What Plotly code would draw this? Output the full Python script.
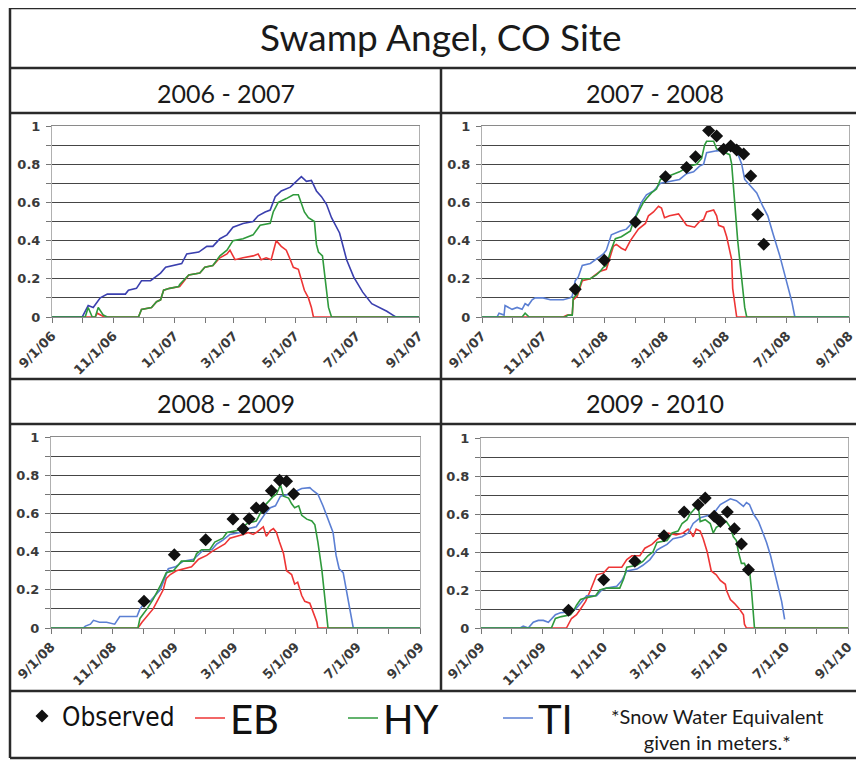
import pandas as pd
import plotly.graph_objects as go

# page window is 864x761; the html body adds an 8px margin, so the figure is 8px smaller
OFF = 8
FW, FH = 864 - OFF, 761 - OFF

# ---------------- data (days after 1 September, SWE in metres) ----------------
SEASON_STARTS = ["2006-09-01", "2007-09-01", "2008-09-01", "2009-09-01"]
SEASON_TITLES = ["2006 - 2007", "2007 - 2008", "2008 - 2009", "2009 - 2010"]
Y_TICKS = [0, 0.2, 0.4, 0.6, 0.8, 1]

# 2006-2007
eb1_days = [0, 43, 45, 48, 52, 86, 89, 99, 104, 108, 111, 117, 127, 136, 147, 152, 160, 167, 174, 177, 182, 190,
            200, 205, 208, 213, 218, 221, 223, 228, 233, 237, 240, 245, 248, 251, 255, 258, 260, 365]
eb1_swe = [0, 0, 0.02, 0.01, 0, 0, 0.04, 0.05, 0.08, 0.09, 0.14, 0.15, 0.16, 0.22, 0.23, 0.26, 0.27, 0.31, 0.33,
           0.35, 0.30, 0.31, 0.32, 0.33, 0.30, 0.31, 0.30, 0.36, 0.40, 0.37, 0.35, 0.30, 0.26, 0.25, 0.20, 0.14,
           0.10, 0.05, 0, 0]
hy1_days = [0, 33, 36, 40, 43, 46, 51, 55, 86, 89, 99, 104, 108, 111, 117, 126, 127, 136, 147, 152, 160, 167, 174,
            180, 190, 200, 207, 217, 220, 225, 233, 240, 245, 248, 251, 255, 258, 261, 263, 265, 269, 272, 275, 278,
            365]
hy1_swe = [0, 0, 0.05, 0, 0, 0.05, 0.01, 0, 0, 0.04, 0.05, 0.08, 0.09, 0.14, 0.15, 0.16, 0.17, 0.22, 0.23, 0.26,
           0.27, 0.32, 0.35, 0.40, 0.41, 0.43, 0.48, 0.49, 0.55, 0.60, 0.62, 0.64, 0.64, 0.60, 0.55, 0.52, 0.51,
           0.50, 0.38, 0.34, 0.32, 0.17, 0.05, 0, 0]
ti1_days = [0, 30, 36, 41, 48, 55, 73, 76, 84, 89, 98, 103, 108, 113, 121, 129, 134, 146, 154, 160, 167, 174, 180,
            190, 200, 205, 212, 217, 222, 228, 237, 245, 248, 253, 258, 263, 268, 273, 278, 286, 293, 300, 309, 318,
            326, 333, 339, 342, 365]
ti1_swe = [0, 0, 0.06, 0.05, 0.10, 0.12, 0.12, 0.14, 0.15, 0.19, 0.19, 0.21, 0.23, 0.26, 0.27, 0.28, 0.33, 0.34,
           0.37, 0.37, 0.41, 0.43, 0.47, 0.49, 0.50, 0.53, 0.55, 0.56, 0.63, 0.66, 0.68, 0.72, 0.735, 0.71, 0.715,
           0.66, 0.63, 0.59, 0.52, 0.44, 0.30, 0.21, 0.13, 0.07, 0.05, 0.03, 0.01, 0, 0]

# 2007-2008
eb2_days = [0, 81, 85, 90, 91, 95, 100, 108, 113, 118, 124, 128, 131, 134, 139, 143, 148, 156, 163, 166, 171, 176,
            179, 182, 187, 196, 201, 204, 212, 217, 221, 224, 231, 234, 236, 241, 244, 247, 249, 250, 254, 366]
eb2_swe = [0, 0, 0.01, 0.01, 0.09, 0.11, 0.19, 0.20, 0.22, 0.24, 0.25, 0.32, 0.37, 0.38, 0.36, 0.35, 0.40, 0.46,
           0.49, 0.53, 0.55, 0.58, 0.57, 0.52, 0.53, 0.54, 0.50, 0.48, 0.47, 0.50, 0.51, 0.55, 0.56, 0.53, 0.48,
           0.47, 0.42, 0.35, 0.30, 0.15, 0, 0]
hy2_days = [0, 40, 43, 47, 83, 86, 90, 91, 95, 100, 108, 114, 118, 121, 124, 128, 133, 139, 148, 151, 156, 161,
            164, 169, 174, 178, 187, 197, 207, 214, 219, 222, 224, 231, 234, 242, 247, 249, 252, 255, 259, 262, 264,
            366]
hy2_swe = [0, 0, 0.02, 0, 0, 0.01, 0.01, 0.10, 0.12, 0.20, 0.20, 0.22, 0.24, 0.26, 0.27, 0.34, 0.41, 0.42, 0.45,
           0.50, 0.55, 0.60, 0.62, 0.65, 0.67, 0.72, 0.74, 0.76, 0.79, 0.80, 0.83, 0.90, 0.92, 0.92, 0.88, 0.86,
           0.85, 0.80, 0.60, 0.40, 0.20, 0.05, 0, 0]
ti2_days = [0, 15, 17, 22, 23, 30, 35, 40, 43, 46, 50, 53, 61, 68, 81, 88, 90, 93, 96, 100, 108, 116, 121, 124,
            129, 138, 144, 151, 156, 159, 164, 171, 178, 187, 197, 204, 211, 217, 221, 224, 234, 244, 250, 254, 259,
            262, 267, 274, 280, 285, 290, 297, 304, 309, 312, 366]
ti2_swe = [0, 0, 0.02, 0.01, 0.06, 0.04, 0.05, 0.04, 0.07, 0.06, 0.09, 0.10, 0.10, 0.09, 0.09, 0.10, 0.11, 0.19,
           0.21, 0.27, 0.28, 0.31, 0.33, 0.35, 0.43, 0.45, 0.46, 0.50, 0.56, 0.60, 0.64, 0.66, 0.70, 0.71, 0.72,
           0.75, 0.76, 0.79, 0.80, 0.86, 0.87, 0.875, 0.88, 0.87, 0.80, 0.72, 0.69, 0.65, 0.58, 0.53, 0.44, 0.32,
           0.18, 0.08, 0, 0]
obs2_days = [93, 122, 153, 183, 204, 213, 226, 234, 241, 248, 254, 261, 268, 275, 281]
obs2_swe = [0.145, 0.297, 0.498, 0.734, 0.783, 0.839, 0.976, 0.948, 0.878, 0.895, 0.874, 0.853, 0.738, 0.537, 0.381]

# 2008-2009
eb3_days = [0, 86, 90, 96, 101, 106, 111, 114, 118, 124, 131, 139, 146, 154, 159, 165, 172, 177, 184, 190, 195,
            200, 203, 207, 210, 213, 217, 220, 223, 226, 230, 233, 238, 241, 244, 248, 251, 256, 259, 263, 264, 365]
eb3_swe = [0, 0, 0.03, 0.07, 0.10, 0.15, 0.20, 0.26, 0.28, 0.30, 0.31, 0.32, 0.36, 0.38, 0.40, 0.42, 0.44, 0.47,
           0.48, 0.49, 0.50, 0.49, 0.50, 0.52, 0.53, 0.48, 0.51, 0.52, 0.50, 0.45, 0.39, 0.30, 0.28, 0.23, 0.24,
           0.17, 0.14, 0.13, 0.09, 0.03, 0, 0]
hy3_days = [0, 86, 88, 95, 101, 108, 114, 121, 126, 129, 141, 144, 149, 157, 162, 170, 174, 184, 187, 190, 195,
            203, 207, 210, 213, 220, 223, 227, 230, 235, 238, 241, 245, 248, 253, 258, 261, 264, 268, 271, 274, 365]
hy3_swe = [0, 0, 0.05, 0.10, 0.15, 0.22, 0.29, 0.30, 0.33, 0.35, 0.35, 0.39, 0.41, 0.41, 0.45, 0.47, 0.50, 0.51,
           0.52, 0.53, 0.55, 0.56, 0.60, 0.63, 0.65, 0.69, 0.70, 0.75, 0.69, 0.68, 0.65, 0.63, 0.64, 0.59, 0.57,
           0.56, 0.54, 0.45, 0.30, 0.15, 0, 0]
ti3_days = [0, 32, 34, 39, 42, 48, 55, 63, 68, 85, 88, 91, 98, 103, 108, 111, 114, 116, 123, 131, 141, 147, 151,
            159, 164, 170, 177, 187, 194, 203, 207, 212, 217, 222, 227, 236, 248, 256, 259, 264, 269, 274, 279, 282,
            285, 289, 293, 296, 299, 365]
ti3_swe = [0, 0, 0.01, 0.02, 0.04, 0.03, 0.03, 0.02, 0.06, 0.06, 0.10, 0.12, 0.14, 0.17, 0.20, 0.24, 0.28, 0.31,
           0.32, 0.35, 0.36, 0.39, 0.41, 0.41, 0.44, 0.46, 0.49, 0.50, 0.52, 0.53, 0.56, 0.60, 0.63, 0.64, 0.69,
           0.70, 0.73, 0.735, 0.72, 0.70, 0.64, 0.57, 0.50, 0.38, 0.31, 0.29, 0.17, 0.08, 0, 0]
obs3_days = [92, 122, 153, 180, 190, 196, 203, 210, 218, 226, 233, 240]
obs3_swe = [0.14, 0.384, 0.462, 0.571, 0.518, 0.572, 0.628, 0.628, 0.719, 0.773, 0.768, 0.702]

# 2009-2010
eb4_days = [0, 85, 90, 95, 99, 104, 109, 112, 115, 122, 127, 140, 145, 150, 158, 163, 170, 176, 181, 186, 194,
            201, 206, 209, 211, 214, 218, 221, 225, 229, 234, 238, 243, 244, 248, 252, 257, 261, 262, 264, 365]
eb4_swe = [0, 0, 0.05, 0.07, 0.10, 0.14, 0.20, 0.24, 0.28, 0.29, 0.32, 0.32, 0.36, 0.38, 0.38, 0.42, 0.44, 0.47,
           0.48, 0.50, 0.49, 0.50, 0.52, 0.50, 0.48, 0.52, 0.51, 0.47, 0.40, 0.30, 0.28, 0.25, 0.23, 0.20, 0.15,
           0.13, 0.10, 0.07, 0.02, 0, 0]
hy4_days = [0, 70, 74, 80, 89, 92, 95, 99, 105, 114, 118, 125, 138, 142, 145, 155, 161, 166, 171, 175, 185, 190,
            196, 200, 205, 208, 213, 216, 218, 223, 228, 231, 234, 241, 244, 248, 251, 254, 256, 259, 262, 265, 267,
            269, 271, 272, 365]
hy4_swe = [0, 0, 0.05, 0.06, 0.07, 0.09, 0.12, 0.15, 0.16, 0.17, 0.20, 0.21, 0.21, 0.26, 0.32, 0.33, 0.35, 0.38,
           0.40, 0.45, 0.46, 0.50, 0.51, 0.55, 0.57, 0.60, 0.63, 0.645, 0.56, 0.57, 0.55, 0.50, 0.53, 0.55, 0.56,
           0.53, 0.48, 0.46, 0.40, 0.34, 0.34, 0.30, 0.31, 0.20, 0.05, 0, 0]
ti4_days = [0, 39, 42, 47, 52, 57, 62, 67, 74, 79, 89, 94, 99, 102, 105, 115, 120, 125, 135, 140, 145, 155, 161,
            168, 175, 178, 185, 191, 200, 206, 211, 218, 226, 231, 238, 244, 248, 254, 257, 261, 264, 267, 271, 276,
            279, 284, 288, 294, 299, 302]
ti4_swe = [0, 0, 0.01, 0, 0.03, 0.04, 0.04, 0.03, 0.07, 0.08, 0.085, 0.10, 0.13, 0.15, 0.17, 0.17, 0.20, 0.21,
           0.22, 0.25, 0.30, 0.31, 0.33, 0.36, 0.41, 0.42, 0.44, 0.47, 0.48, 0.50, 0.55, 0.58, 0.59, 0.60, 0.65,
           0.67, 0.68, 0.67, 0.655, 0.64, 0.66, 0.65, 0.60, 0.56, 0.52, 0.45, 0.38, 0.24, 0.14, 0.045]
obs4_days = [87, 122, 153, 182, 202, 216, 223, 232, 238, 245, 252, 259, 266]
obs4_swe = [0.093, 0.254, 0.351, 0.486, 0.611, 0.649, 0.684, 0.588, 0.561, 0.611, 0.523, 0.442, 0.307]

# ---------------- styling ----------------
RED, GREEN = "#ee3535", "#2f9a3c"
BLUES = ["#3a3fae", "#5b7fd3", "#5b7fd3", "#5b7fd3"]
MAIN_FONT = "Lato, 'Open Sans', sans-serif"
TICK_FONT = dict(family="DejaVu Sans", size=13, color="#3a3a3a", weight=700)


def px(x):
    return (x - OFF) / FW


def py(y):
    return 1 - (y - OFF) / FH


# plot-area boxes in window pixels: (left, right, top, bottom)
BOXES = [(52, 419, 126, 317), (482, 849, 126, 317), (51, 420, 437, 628), (481, 848, 438, 628)]

series = [
    (eb1_days, eb1_swe, hy1_days, hy1_swe, ti1_days, ti1_swe, None, None),
    (eb2_days, eb2_swe, hy2_days, hy2_swe, ti2_days, ti2_swe, obs2_days, obs2_swe),
    (eb3_days, eb3_swe, hy3_days, hy3_swe, ti3_days, ti3_swe, obs3_days, obs3_swe),
    (eb4_days, eb4_swe, hy4_days, hy4_swe, ti4_days, ti4_swe, obs4_days, obs4_swe),
]


def to_dates(start, days):
    return pd.Timestamp(start) + pd.to_timedelta(days, unit="D")


fig = go.Figure()
for i, (ebd, ebv, hyd, hyv, tid, tiv, obd, obv) in enumerate(series):
    start = SEASON_STARTS[i]
    xa = "x" if i == 0 else f"x{i + 1}"
    ya = "y" if i == 0 else f"y{i + 1}"
    fig.add_trace(go.Scatter(x=to_dates(start, ebd), y=ebv, mode="lines", name="EB",
                             line=dict(color=RED, width=1.6), xaxis=xa, yaxis=ya,
                             legend="legend2", showlegend=(i == 1)))
    fig.add_trace(go.Scatter(x=to_dates(start, tid), y=tiv, mode="lines", name="TI",
                             line=dict(color=BLUES[i], width=1.6), xaxis=xa, yaxis=ya,
                             legend="legend4", showlegend=(i == 1)))
    fig.add_trace(go.Scatter(x=to_dates(start, hyd), y=hyv, mode="lines", name="HY",
                             line=dict(color=GREEN, width=1.6), xaxis=xa, yaxis=ya,
                             legend="legend3", showlegend=(i == 1)))
    if obd is not None:
        fig.add_trace(go.Scatter(x=to_dates(start, obd), y=obv, mode="markers", name="Observed",
                                 marker=dict(symbol="diamond", size=10, color="#111111"),
                                 xaxis=xa, yaxis=ya, legend="legend", showlegend=(i == 1)))

layout = {}
for i, (l, r, t, b) in enumerate(BOXES):
    start = pd.Timestamp(SEASON_STARTS[i])
    end = start + pd.DateOffset(years=1)
    xk = "xaxis" if i == 0 else f"xaxis{i + 1}"
    yk = "yaxis" if i == 0 else f"yaxis{i + 1}"
    layout[xk] = dict(
        domain=[px(l), px(r)], anchor="y" if i == 0 else f"y{i + 1}",
        type="date", range=[start, end], tick0=start, dtick="M2", tickformat="%-m/%-d/%y",
        tickangle=-45, tickfont=TICK_FONT, ticks="outside", ticklen=5, tickcolor="#777",
        showgrid=False, showline=True, linecolor="#8a8a8a", linewidth=1.2, mirror=True,
        minor=dict(dtick="M1", ticks="outside", ticklen=5, tickcolor="#777"),
        zeroline=False, fixedrange=True,
    )
    layout[yk] = dict(
        domain=[py(b), py(t)], anchor="x" if i == 0 else f"x{i + 1}",
        range=[0, 1], tickvals=Y_TICKS, ticktext=[f"{v:g}" for v in Y_TICKS],
        tickfont=TICK_FONT, ticks="outside", ticklen=5, tickcolor="#777", ticklabelstandoff=3,
        showgrid=True, gridcolor="#454545", gridwidth=1,
        minor=dict(dtick=0.1, showgrid=True, gridcolor="#454545", gridwidth=1,
                   ticks="outside", ticklen=5, tickcolor="#777"),
        showline=True, linecolor="#b0b0b0", linewidth=1, mirror=True,
        zeroline=False, fixedrange=True,
    )

legend_common = dict(orientation="h", xanchor="left", yanchor="middle", bgcolor="rgba(0,0,0,0)",
                     itemwidth=30, tracegroupgap=0)
layout["legend"] = dict(legend_common, x=px(22), y=py(716),
                        font=dict(family="'DejaVu Sans Condensed', 'Liberation Sans Narrow', sans-serif",
                                  size=26, color="#111", weight=400))
layout["legend2"] = dict(legend_common, x=px(190), y=py(718),
                         font=dict(family=MAIN_FONT, size=40, color="#111"))
layout["legend3"] = dict(legend_common, x=px(343), y=py(718),
                         font=dict(family=MAIN_FONT, size=40, color="#111"))
layout["legend4"] = dict(legend_common, x=px(498), y=py(718),
                         font=dict(family=MAIN_FONT, size=40, color="#111"))

fig.update_layout(**layout)

# frame lines of the figure panels (window pixels)
LINE = dict(color="#2a2a2a", width=2.5)
frame = [
    (10, 8, 870, 8), (10, 8, 10, 758), (10, 758, 870, 758),
    (10, 68, 870, 68), (10, 113, 870, 113), (10, 379, 870, 379), (10, 424, 870, 424), (10, 691, 870, 691),
    (441, 68, 441, 691),
]
for x0, y0, x1, y1 in frame:
    fig.add_shape(type="line", xref="paper", yref="paper", x0=px(x0), x1=px(x1),
                  y0=py(y0), y1=py(y1), line=LINE)

texts = [
    ("Swamp Angel, CO Site", 441, 37, 37),
    (SEASON_TITLES[0], 226, 93, 25), (SEASON_TITLES[1], 655, 93, 25),
    (SEASON_TITLES[2], 226, 403, 25), (SEASON_TITLES[3], 655, 403, 25),
]
for txt, x, y, s in texts:
    fig.add_annotation(text=txt, x=px(x), y=py(y), xref="paper", yref="paper",
                       showarrow=False, xanchor="center", yanchor="middle",
                       font=dict(family=MAIN_FONT, size=s, color="#1a1a1a"))
fig.add_annotation(text="*Snow Water Equivalent<br>given in meters.*", x=px(717), y=py(729),
                   xref="paper", yref="paper", showarrow=False, xanchor="center", yanchor="middle",
                   align="center", font=dict(family=MAIN_FONT, size=20, color="#1a1a1a"))

fig.update_layout(width=FW, height=FH, margin=dict(l=0, r=0, t=0, b=0, autoexpand=False),
                  paper_bgcolor="white", plot_bgcolor="white")

fig.write_html("out.html")
